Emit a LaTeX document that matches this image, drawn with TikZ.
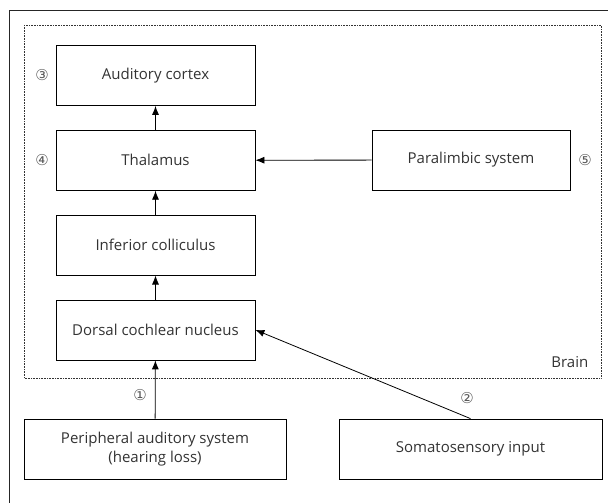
\documentclass[tikz,border=0pt]{standalone}
\usepackage{fontspec}
\setmainfont{Open Sans}
\newfontfamily\circfont{DejaVu Sans}
\usetikzlibrary{arrows.meta, positioning}

\begin{document}
\begin{tikzpicture}[x=1pt, y=-1pt, line width=0.8pt,
    every node/.style={text=black!80},
    box/.style={draw, rectangle, minimum height=60pt, minimum width=199pt, font=\fontsize{15}{19}\selectfont, align=center},
    num/.style={font=\circfont\fontsize{15}{17}\selectfont, text=black!65},
    conn/.style={-{Latex[length=9pt, width=7pt]}},
    node distance=24pt]
    \useasboundingbox (0,0) rectangle (608,503);
    % frame and brain region
    \draw[black!85] (9,503) -- (9,10) -- (608,10);
    \draw[densely dotted, line width=0.6pt, black!80] (24,25) rectangle (601,378);
    \node[anchor=east, font=\fontsize{15}{19}\selectfont] (brain) at (592,362) {Brain};

    \node[box] (cortex) at (155.5,75.5) {Auditory cortex};
    \node[box, below=of cortex] (thal) {Thalamus};
    \node[box, below=of thal] (ic) {Inferior colliculus};
    \node[box, below=of ic] (dcn) {Dorsal cochlear nucleus};
    \node[box, minimum width=198pt] (para) at (471,160) {Paralimbic system};
    \node[box, minimum width=262pt] (pas) at (155,449) {Peripheral auditory system\\(hearing loss)};
    \node[box, minimum width=263pt] (soma) at (470.5,449) {Somatosensory input};

    \node[num] (n1) at (140,395) {①};
    \node[num] (n2) at (467,398) {②};
    \node[num] (n3) at (42,75) {③};
    \node[num] (n4) at (42,160) {④};
    \node[num] (n5) at (585,160) {⑤};

    \draw[conn] (pas) -- (dcn);
    \draw[conn] (soma.north) -- (dcn.east);
    \draw[conn] (dcn) -- (ic);
    \draw[conn] (ic) -- (thal);
    \draw[conn] (thal) -- (cortex);
    \draw[conn] (para) -- (thal);
\end{tikzpicture}
\end{document}
